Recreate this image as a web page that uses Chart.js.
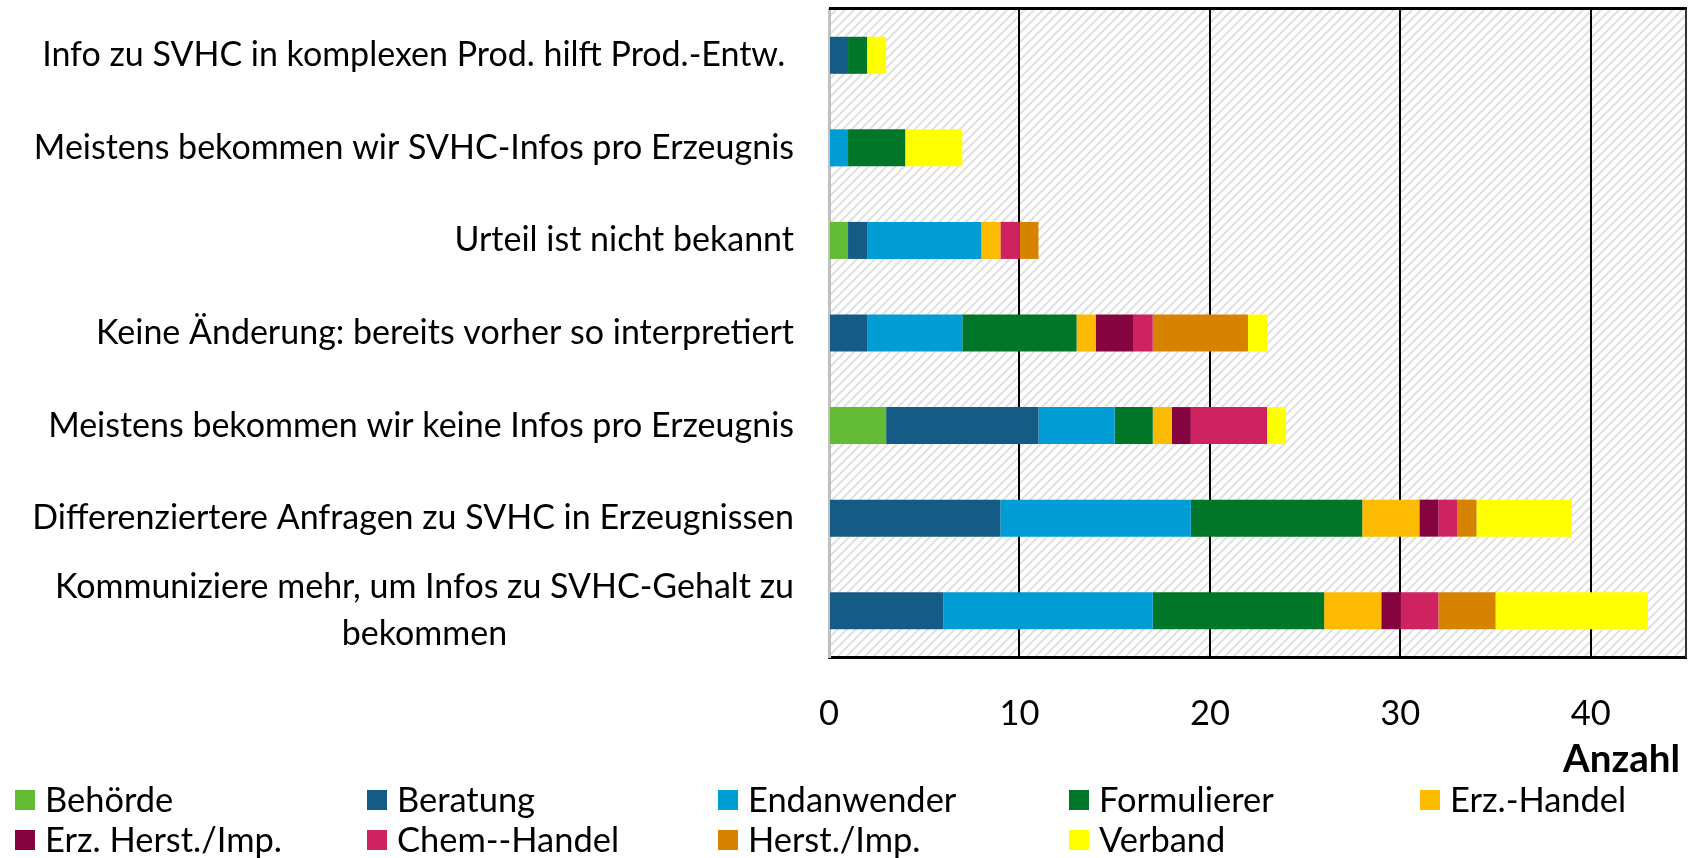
<!DOCTYPE html>
<html><head><meta charset="utf-8">
<script src="https://cdn.jsdelivr.net/npm/chart.js@4"></script>
<style>html,body{margin:0;padding:0;background:#fff;}#wrap{width:1692px;height:858px;position:relative;}</style>
</head><body><div id="wrap"><canvas id="c" width="1692" height="858"></canvas></div>
<script>
const categories = [
  "Info zu SVHC in komplexen Prod. hilft Prod.-Entw. ",
  "Meistens bekommen wir SVHC-Infos pro Erzeugnis",
  "Urteil ist nicht bekannt",
  "Keine Änderung: bereits vorher so interpretiert",
  "Meistens bekommen wir keine Infos pro Erzeugnis",
  "Differenziertere Anfragen zu SVHC in Erzeugnissen",
  ["Kommuniziere mehr, um Infos zu SVHC-Gehalt zu", "bekommen"]
];
const seriesNames = ["Behörde","Beratung","Endanwender","Formulierer","Erz.-Handel","Erz. Herst./Imp.","Chem--Handel","Herst./Imp.","Verband"];
const behoerde    = [0,0,1,0,3,0,0];
const beratung    = [1,0,1,2,8,9,6];
const endanwender = [0,1,6,5,4,10,11];
const formulierer = [1,3,0,6,2,9,9];
const erzHandel   = [0,0,1,1,1,3,3];
const erzHerst    = [0,0,0,2,1,1,1];
const chemHandel  = [0,0,1,1,4,1,2];
const herstImp    = [0,0,1,5,0,1,3];
const verband     = [1,3,0,1,1,5,8];
const xTicks = [0,10,20,30,40];
const axisTitle = "Anzahl";

const seriesValues = [behoerde,beratung,endanwender,formulierer,erzHandel,erzHerst,chemHandel,herstImp,verband];
const colors = ["#63BB33","#145C86","#009DD5","#007629","#FCBB00","#850440","#CF2261","#D68400","#FFFF00"];

const FAMILY = "Lato, 'Open Sans', sans-serif";
const mctx = document.createElement('canvas').getContext('2d');
function fitSize(text, target, weight) {
  mctx.font = (weight||'normal') + ' 100px ' + FAMILY;
  return 100 * target / mctx.measureText(text).width;
}
const labelSize = fitSize("Differenziertere Anfragen zu SVHC in Erzeugnissen", 762);
const tickSize = fitSize("20", 40);
const legendSize = fitSize("Erz. Herst./Imp.", 237);
const titleSize = fitSize("Anzahl", 117, 'bold');

// hatch pattern
const pc = document.createElement('canvas');
pc.width = 9; pc.height = 9;
const p = pc.getContext('2d');
p.fillStyle = '#ffffff'; p.fillRect(0,0,9,9);
p.strokeStyle = '#e0e0e0'; p.lineWidth = 2;
p.beginPath();
p.moveTo(-1,10); p.lineTo(10,-1);
p.moveTo(-1,1); p.lineTo(1,-1);
p.moveTo(8,10); p.lineTo(10,8);
p.stroke();

const bgPlugin = {
  id: 'bg',
  beforeDraw(chart) {
    const {ctx, chartArea: a} = chart;
    ctx.save();
    ctx.fillStyle = ctx.createPattern(pc, 'repeat');
    ctx.fillRect(a.left, a.top, a.right - a.left, a.bottom - a.top);
    ctx.restore();
  },
  afterDraw(chart) {
    const {ctx, chartArea: a} = chart;
    ctx.save();
    ctx.strokeStyle = '#000'; ctx.lineWidth = 3;
    ctx.beginPath(); ctx.moveTo(a.left, a.top - 0.5); ctx.lineTo(a.right + 1, a.top - 0.5); ctx.stroke();
    ctx.strokeStyle = '#333'; ctx.lineWidth = 2;
    ctx.beginPath(); ctx.moveTo(a.right, a.top); ctx.lineTo(a.right, a.bottom + 1); ctx.stroke();
    ctx.restore();
  }
};

const yLabelPlugin = {
  id: 'ylabels',
  afterDraw(chart) {
    const {ctx, chartArea: a} = chart;
    const ys = chart.scales.y;
    ctx.save();
    ctx.font = labelSize + 'px ' + FAMILY;
    ctx.fillStyle = '#000';
    ctx.textBaseline = 'middle';
    ctx.textAlign = 'center';
    const right = a.left - 35;
    const lh = labelSize * 1.4;
    chart.data.labels.forEach((lab, i) => {
      const lines = Array.isArray(lab) ? lab : [lab];
      const w = Math.max(...lines.map(l => ctx.measureText(l).width));
      const cx = right - w / 2;
      const cy = ys.getPixelForTick(i);
      const y0 = cy - (lines.length - 1) * lh / 2;
      lines.forEach((l, k) => ctx.fillText(l, cx, y0 + k * lh));
    });
    ctx.restore();
  }
};

const legendPlugin = {
  id: 'gridLegend',
  afterDraw(chart) {
    const {ctx} = chart;
    ctx.save();
    ctx.font = legendSize + 'px ' + FAMILY;
    ctx.textBaseline = 'middle';
    ctx.textAlign = 'left';
    const colX = [15, 367, 718, 1069, 1420];
    const rowY = [800, 840];
    chart.data.datasets.forEach((ds, i) => {
      const x = colX[i % 5], y = rowY[Math.floor(i / 5)];
      ctx.fillStyle = ds.backgroundColor;
      ctx.fillRect(x, y - 10, 20, 20);
      ctx.fillStyle = '#000';
      ctx.fillText(ds.label, x + 30, y + 1);
    });
    ctx.restore();
  }
};

const titlePlugin = {
  id: 'axTitle',
  afterDraw(chart) {
    const {ctx} = chart;
    ctx.save();
    ctx.font = 'bold ' + titleSize + 'px ' + FAMILY;
    ctx.fillStyle = '#000';
    ctx.textAlign = 'right';
    ctx.textBaseline = 'middle';
    ctx.fillText(axisTitle, 1680, 760);
    ctx.restore();
  }
};

new Chart(document.getElementById('c'), {
  type: 'bar',
  data: {
    labels: categories,
    datasets: seriesNames.map((n, i) => ({
      label: n, data: seriesValues[i], backgroundColor: colors[i], borderWidth: 0,
      categoryPercentage: 1, barPercentage: 0.4
    }))
  },
  options: {
    indexAxis: 'y',
    responsive: false,
    animation: false,
    layout: {padding: {top: 9, right: 6, bottom: 0, left: 0}},
    plugins: {legend: {display: false}, tooltip: {enabled: false}},
    scales: {
      x: {
        stacked: true, min: 0, max: 45,
        afterBuildTicks(s) { s.ticks = xTicks.map(v => ({value: v})); },
        afterFit(s) { s.height = 858 - 657; },
        ticks: {font: {family: FAMILY, size: tickSize, lineHeight: 1}, color: '#000', padding: 57 - tickSize / 2},
        grid: {
          drawTicks: false,
          color: ctx => ctx.tick && ctx.tick.value === 0 ? 'rgba(0,0,0,0)' : '#000',
          lineWidth: 2
        },
        border: {display: true, color: '#000', width: 3}
      },
      y: {
        stacked: true,
        afterFit(s) { s.width = 829; },
        ticks: {display: false},
        grid: {display: false, drawTicks: false},
        border: {display: true, color: '#c0c0c0', width: 3}
      }
    }
  },
  plugins: [bgPlugin, yLabelPlugin, legendPlugin, titlePlugin]
});
</script></body></html>
